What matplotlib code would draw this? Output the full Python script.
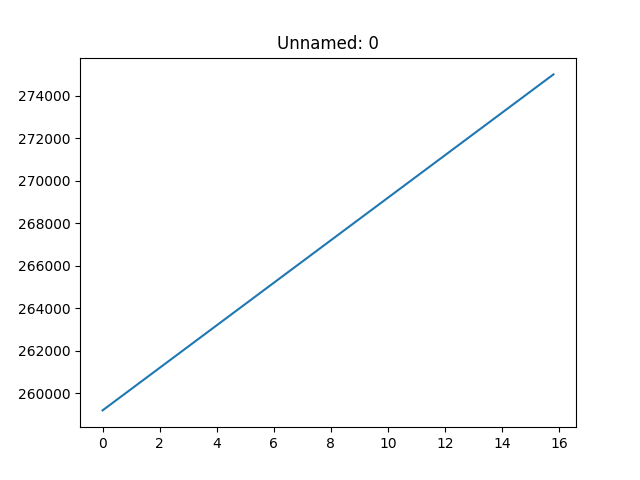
import matplotlib
matplotlib.use("Agg")
import matplotlib.pyplot as plt

# values
x = [0, 15.8]
y = [259200, 275000]

fig, ax = plt.subplots(figsize=(6.4, 4.8), dpi=100)
ax.plot(x, y)
ax.set_title("Unnamed: 0")

plt.savefig("out.png")
